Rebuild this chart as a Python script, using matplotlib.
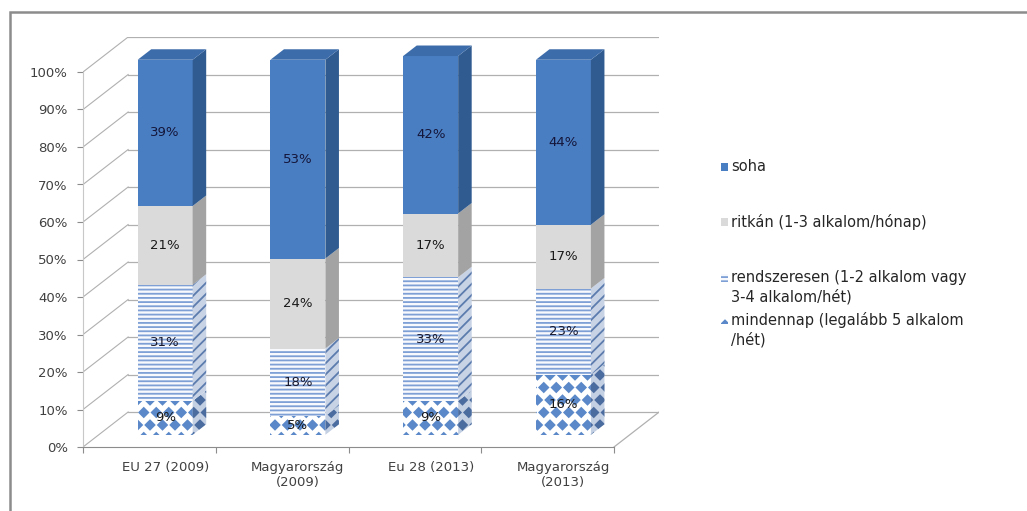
import numpy as np
import matplotlib
matplotlib.use("Agg")
import matplotlib.pyplot as plt
import matplotlib.hatch as mhatch
from matplotlib.path import Path
from matplotlib.patches import Polygon, Rectangle

# ---- data -------------------------------------------------------------
categories = ["EU 27 (2009)", "Magyarország\n(2009)", "Eu 28 (2013)", "Magyarország\n(2013)"]
series_labels = [
    "mindennap (legalább 5 alkalom\n/hét)",
    "rendszeresen (1-2 alkalom vagy\n3-4 alkalom/hét)",
    "ritkán (1-3 alkalom/hónap)",
    "soha",
]
mindennap = [9, 5, 9, 16]
rendszeresen = [31, 18, 33, 23]
ritkan = [21, 24, 17, 17]
soha = [39, 53, 42, 44]
y_ticks = [0, 10, 20, 30, 40, 50, 60, 70, 80, 90, 100]


# ---- filled diamond hatch ('.') ----------------------------------------
class FilledDiamonds(mhatch.Shapes):
    size = 0.36
    filled = True

    def __init__(self, hatch, density):
        # keep an even row count so the staggered layout fills the tile
        rows = int(hatch.count('.') * density * 4 / 3)
        self.num_rows = rows + (rows % 2)
        path = Path.unit_regular_polygon(4)
        self.shape_vertices = path.vertices
        self.shape_codes = path.codes
        super().__init__(hatch, density)


mhatch._hatch_types = [t for t in mhatch._hatch_types
                       if t is not mhatch.SmallFilledCircles] + [FilledDiamonds]
plt.rcParams["hatch.linewidth"] = 1.3
plt.rcParams["font.family"] = "DejaVu Sans"

# ---- styles (front, side, hatch colours) -------------------------------
styles = [
    dict(face="#ffffff", hatch=".", hcol="#5a88c8", side="#c3cfe2", shatch=".", shcol="#4a6c9f"),
    dict(face="#f7f9fd", hatch="----", hcol="#7e9fd6", side="#c8d3e6", shatch="///", shcol="#5d7cae"),
    dict(face="#dadada", hatch=None, hcol="#dadada", side="#a3a3a3", shatch=None, shcol="#a3a3a3"),
    dict(face="#4a7ec2", hatch=None, hcol="#4a7ec2", side="#2f5b90", shatch=None, shcol="#2f5b90"),
]
top_colour = "#3d6cab"
label_colours = ["#1a1a1a", "#1a1a2e", "#1a1a1a", "#14163a"]

W_PX, H_PX = 1027, 511
fig = plt.figure(figsize=(W_PX / 100, H_PX / 100), dpi=100)

# 3-D box geometry in data units
DX, DY = 0.34, 9.33          # full depth of the floor / walls
F0 = 0.35                    # depth where bar fronts sit
BD = 0.30                    # bar depth as fraction of full depth
BAR_W = 0.414
FX, FY = F0 * DX, F0 * DY
BX, BY = BD * DX, BD * DY

x_left, x_right = -0.5, len(categories) - 0.5
ax = fig.add_axes([83 / W_PX, (H_PX - 447) / H_PX,
                   (x_right + DX - x_left) * 132.75 / W_PX,
                   (100 + DY) * 3.75 / H_PX])
ax.set_xlim(x_left, x_right + DX)
ax.set_ylim(0, 100 + DY)

grid_c = "#b0b0b0"
# back wall gridlines and left wall diagonals
for v in y_ticks:
    ax.plot([x_left + DX, x_right + DX], [v + DY, v + DY], color=grid_c, lw=0.9, zorder=1)
    ax.plot([x_left, x_left + DX], [v, v + DY], color=grid_c, lw=0.8, zorder=1)
# floor right edge
ax.plot([x_right, x_right + DX], [0, DY], color=grid_c, lw=0.9, zorder=1)

# ---- stacked bars -----------------------------------------------------
series = [mindennap, rendszeresen, ritkan, soha]
x = np.arange(len(categories))
bottom = np.zeros(len(categories))
for k, (vals, st) in enumerate(zip(series, styles)):
    vals = np.asarray(vals, dtype=float)
    ax.bar(x + FX, vals, bottom=bottom + FY, width=BAR_W, color=st["face"],
           edgecolor=st["hcol"], hatch=st["hatch"], linewidth=0, zorder=3)
    for i in range(len(categories)):
        xr = x[i] + FX + BAR_W / 2
        y0 = bottom[i] + FY
        y1 = bottom[i] + vals[i] + FY
        ax.add_patch(Polygon([(xr, y0), (xr + BX, y0 + BY), (xr + BX, y1 + BY), (xr, y1)],
                             closed=True, facecolor=st["side"], edgecolor=st["shcol"],
                             hatch=st["shatch"], linewidth=0, zorder=3))
        ax.text(x[i] + FX, (y0 + y1) / 2, f"{int(vals[i])}%", ha="center", va="center",
                fontsize=9.5, color=label_colours[k], zorder=5)
    bottom = bottom + vals

# top faces of the stacks
for i in range(len(categories)):
    xl = x[i] + FX - BAR_W / 2
    xr = x[i] + FX + BAR_W / 2
    yt = bottom[i] + FY
    ax.add_patch(Polygon([(xl, yt), (xl + BX, yt + BY), (xr + BX, yt + BY), (xr, yt)],
                         closed=True, facecolor=top_colour, edgecolor="none", zorder=3))

# ---- axes --------------------------------------------------------------
for s in ("top", "right"):
    ax.spines[s].set_visible(False)
ax.spines["left"].set_bounds(0, 100)
ax.spines["left"].set_color("#c8c8c8")
ax.spines["bottom"].set_bounds(x_left, x_right)
ax.spines["bottom"].set_color("#8c8c8c")
ax.set_yticks(y_ticks, labels=[f"{v}%" for v in y_ticks])
ax.tick_params(axis="y", length=4, color="#8c8c8c", pad=7, labelsize=9.5, labelcolor="#404040")
ax.set_xticks(np.arange(len(categories) + 1) - 0.5, labels=[""] * (len(categories) + 1))
ax.set_xticks(x + FX, labels=categories, minor=True)
ax.tick_params(axis="x", which="major", length=4, color="#8c8c8c")
ax.tick_params(axis="x", which="minor", length=0, pad=10, labelsize=9.5, labelcolor="#404040")
ax.patch.set_alpha(0)

# ---- legend ------------------------------------------------------------
def fx(px):
    return px / W_PX


def fy(py):
    return 1 - py / H_PX


legend_rows = [  # (series index, y of first text line)
    (3, 167), (2, 222), (1, 278), (0, 320)]
for idx, ypx in legend_rows:
    st = styles[idx]
    fig.add_artist(Rectangle((fx(721), fy(ypx + 4)), 7 / W_PX, 8 / H_PX,
                             transform=fig.transFigure, facecolor=st["face"],
                             edgecolor=st["hcol"], hatch=st["hatch"], linewidth=0))
    fig.text(fx(731), fy(ypx - 8), series_labels[idx], ha="left", va="top",
             fontsize=10.5, color="#262626", linespacing=1.3)

# outer frame
fig.add_artist(Rectangle((fx(10), -0.2), 1.5, 1.2 - 12 / H_PX, transform=fig.transFigure,
                         fill=False, edgecolor="#8c8c8c", linewidth=1.8))

fig.savefig("out.png", dpi=100)
